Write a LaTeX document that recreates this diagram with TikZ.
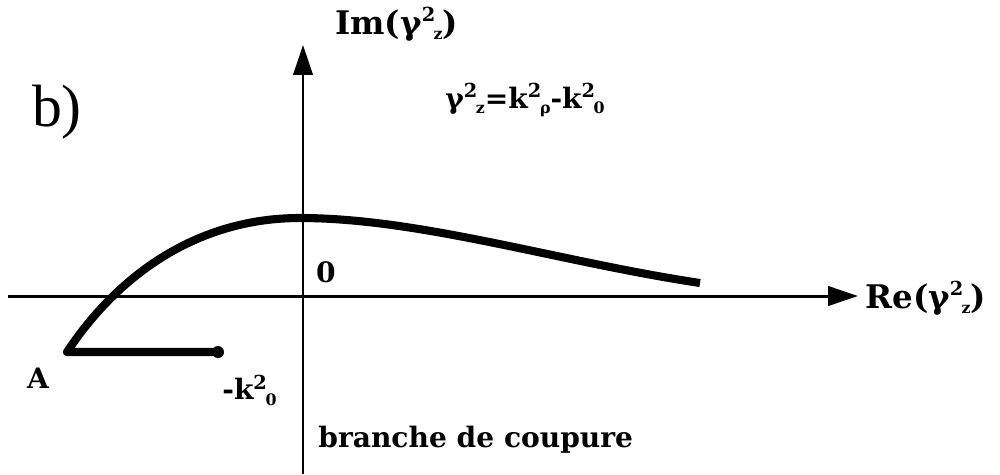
\documentclass[tikz,border=0pt]{standalone}
\usepackage{fontspec}
\setmainfont{Liberation Serif}
\newfontfamily\lblfont{DejaVu Serif}
\usetikzlibrary{arrows.meta}
\newcommand{\ssb}[2]{\raisebox{0.75ex}{\fontsize{11}{11}\selectfont #1}\hspace{-0.05em}\raisebox{-0.35ex}{\fontsize{9}{9}\selectfont #2}}
\begin{document}
\begin{tikzpicture}[x=0.02cm,y=-0.02cm,
  axis/.style={line width=1.7pt,-{Triangle[length=17pt,width=11pt]}},
  thick curve/.style={line width=4.6pt},
  lbl/.style={font=\lblfont\bfseries\fontsize{16}{16}\selectfont,inner sep=0pt},
  axlbl/.style={font=\lblfont\bfseries\fontsize{18.5}{18.5}\selectfont,inner sep=0pt}]
\useasboundingbox (0,0) rectangle (1000,474);
\coordinate (xs) at (8,296);
\coordinate (xe) at (858,296);
\coordinate (ys) at (303,474);
\coordinate (ye) at (303,45);
\draw[axis] (xs) -- (xe);
\draw[axis] (ys) -- (ye);
\coordinate (A) at (67,352);
\coordinate (P) at (300,218);
\coordinate (E) at (700,283);
\coordinate (K) at (218,352);
\draw[thick curve,line join=round] (E) .. controls (560,262) and (420,218) .. (P) .. controls (200,218) and (120,272) .. (A) -- (K);
\fill (K) circle (6);
\node[axlbl,anchor=west] (re) at (865,298) {Re(γ\ssb{2}{z})};
\node[axlbl,anchor=west] (im) at (335,24) {Im(γ\ssb{2}{z})};
\node[inner sep=0pt,font=\fontsize{34}{34}\selectfont] (b) at (57,112) {b)};
\node[lbl,anchor=west] (eq) at (445,100) {γ\ssb{2}{z}=k\ssb{2}{ρ}-k\ssb{2}{0}};
\node[lbl] (zero) at (326,272) {0};
\node[lbl] (a) at (38,378) {A};
\node[lbl,anchor=west] (mk) at (222,390) {-k\ssb{2}{0}};
\node[lbl,anchor=west] (br) at (318,440) {branche de coupure};
\end{tikzpicture}
\end{document}
